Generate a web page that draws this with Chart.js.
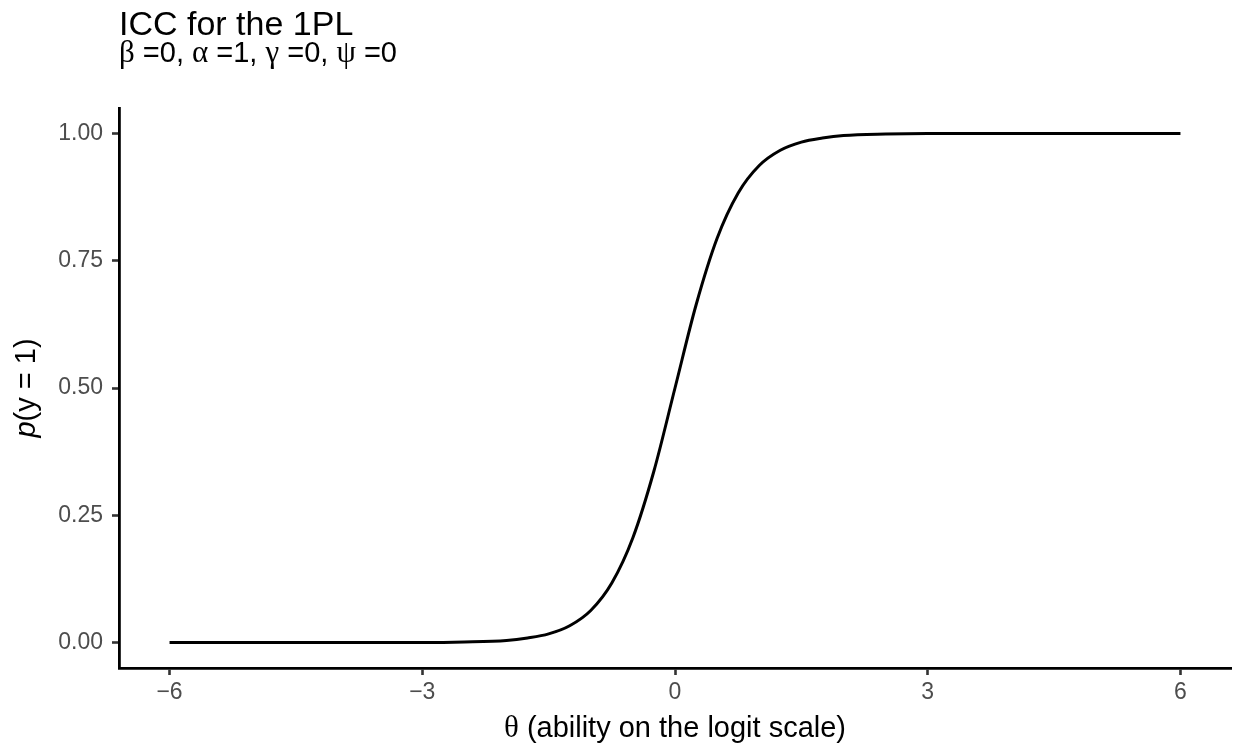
<!DOCTYPE html>
<html lang="en">
<head>
    <meta charset="UTF-8">
    <title>ICC for the 1PL</title>
    <script src="https://cdn.jsdelivr.net/npm/chart.js@4.4.1/dist/chart.umd.min.js"></script>
    <style>
        body { margin: 0; background: #fff; }
    </style>
</head>
<body>
    <canvas id="chart" width="1235" height="746"></canvas>
    <script>
        // theta values and p(y = 1)
        const theta = [-6, -5, -4, -3, -2.5, -2, -1.75, -1.5, -1.25, -1, -0.75, -0.5, -0.25,
                       0, 0.25, 0.5, 0.75, 1, 1.25, 1.5, 1.75, 2, 2.5, 3, 4, 5, 6];
        const prob = [0.000, 0.000, 0.000, 0.000, 0.001, 0.004, 0.009, 0.017, 0.033, 0.063, 0.117, 0.206, 0.337,
                      0.500, 0.663, 0.794, 0.883, 0.937, 0.967, 0.983, 0.991, 0.996, 0.999, 1.000, 1.000, 1.000, 1.000];

        const xTicks = [-6, -3, 0, 3, 6];
        const yTicks = [0, 0.25, 0.5, 0.75, 1];

        const sans = '"Liberation Sans", Arial, sans-serif';
        const serif = '"Liberation Serif", "Times New Roman", serif';

        // draws mixed-font text pieces starting at x
        function drawPieces(ctx, pieces, x, y) {
            pieces.forEach(p => {
                ctx.font = p[1];
                ctx.fillText(p[0], x, y);
                x += ctx.measureText(p[0]).width;
            });
            return x;
        }
        function piecesWidth(ctx, pieces) {
            let w = 0;
            pieces.forEach(p => { ctx.font = p[1]; w += ctx.measureText(p[0]).width; });
            return w;
        }

        const titles = {
            id: 'titles',
            afterDraw(chart) {
                const ctx = chart.ctx;
                const area = chart.chartArea;
                ctx.save();
                ctx.fillStyle = '#000';
                ctx.textBaseline = 'alphabetic';
                ctx.textAlign = 'left';

                ctx.font = '34px ' + sans;
                ctx.fillText('ICC for the 1PL', area.left, 35);

                const g = '31px ' + serif, s = '29px ' + sans;
                drawPieces(ctx, [['β', g], [' =0, ', s], ['α', g], [' =1, ', s], ['γ', g], [' =0, ', s], ['ψ', g], [' =0', s]],
                    area.left, 62);

                // x axis title
                const xt = [['θ', g], [' (ability on the logit scale)', s]];
                const cx = (area.left + area.right) / 2;
                drawPieces(ctx, xt, cx - piecesWidth(ctx, xt) / 2, 737);

                // y axis title, rotated
                const yt = [['p', 'italic 29px ' + sans], ['(y = 1)', s]];
                ctx.translate(35, (area.top + area.bottom) / 2);
                ctx.rotate(-Math.PI / 2);
                drawPieces(ctx, yt, -piecesWidth(ctx, yt) / 2, 0);
                ctx.restore();
            }
        };

        const ctx = document.getElementById('chart').getContext('2d');
        const myChart = new Chart(ctx, {
            type: 'line',
            data: {
                datasets: [{
                    data: theta.map((t, i) => ({ x: t, y: prob[i] })),
                    borderColor: '#000',
                    borderWidth: 3,
                    pointRadius: 0,
                    cubicInterpolationMode: 'monotone',
                    fill: false
                }]
            },
            options: {
                responsive: false,
                animation: false,
                layout: { padding: { top: 108, right: 4, left: 0, bottom: 0 } },
                plugins: {
                    legend: { display: false },
                    tooltip: { enabled: false }
                },
                scales: {
                    x: {
                        type: 'linear',
                        min: -6.6,
                        max: 6.6,
                        afterBuildTicks: scale => { scale.ticks = xTicks.map(v => ({ value: v })); },
                        afterFit: scale => { scale.height = 78; },
                        grid: { drawOnChartArea: false, drawTicks: true, tickLength: 7, tickWidth: 2.6, tickColor: '#333' },
                        border: { display: true, color: '#000', width: 2.8 },
                        ticks: {
                            color: '#4D4D4D',
                            font: { family: sans, size: 23 },
                            padding: 4,
                            maxRotation: 0,
                            callback: v => String(v).replace('-', '\u2212')
                        }
                    },
                    y: {
                        min: -0.05,
                        max: 1.05,
                        afterBuildTicks: scale => { scale.ticks = yTicks.map(v => ({ value: v })); },
                        afterFit: scale => { scale.width = 119; },
                        grid: { drawOnChartArea: false, drawTicks: true, tickLength: 7, tickWidth: 2.6, tickColor: '#333' },
                        border: { display: true, color: '#000', width: 2.8 },
                        ticks: {
                            color: '#4D4D4D',
                            font: { family: sans, size: 23 },
                            padding: 9,
                            callback: v => v.toFixed(2)
                        }
                    }
                }
            },
            plugins: [titles]
        });
    </script>
</body>
</html>
